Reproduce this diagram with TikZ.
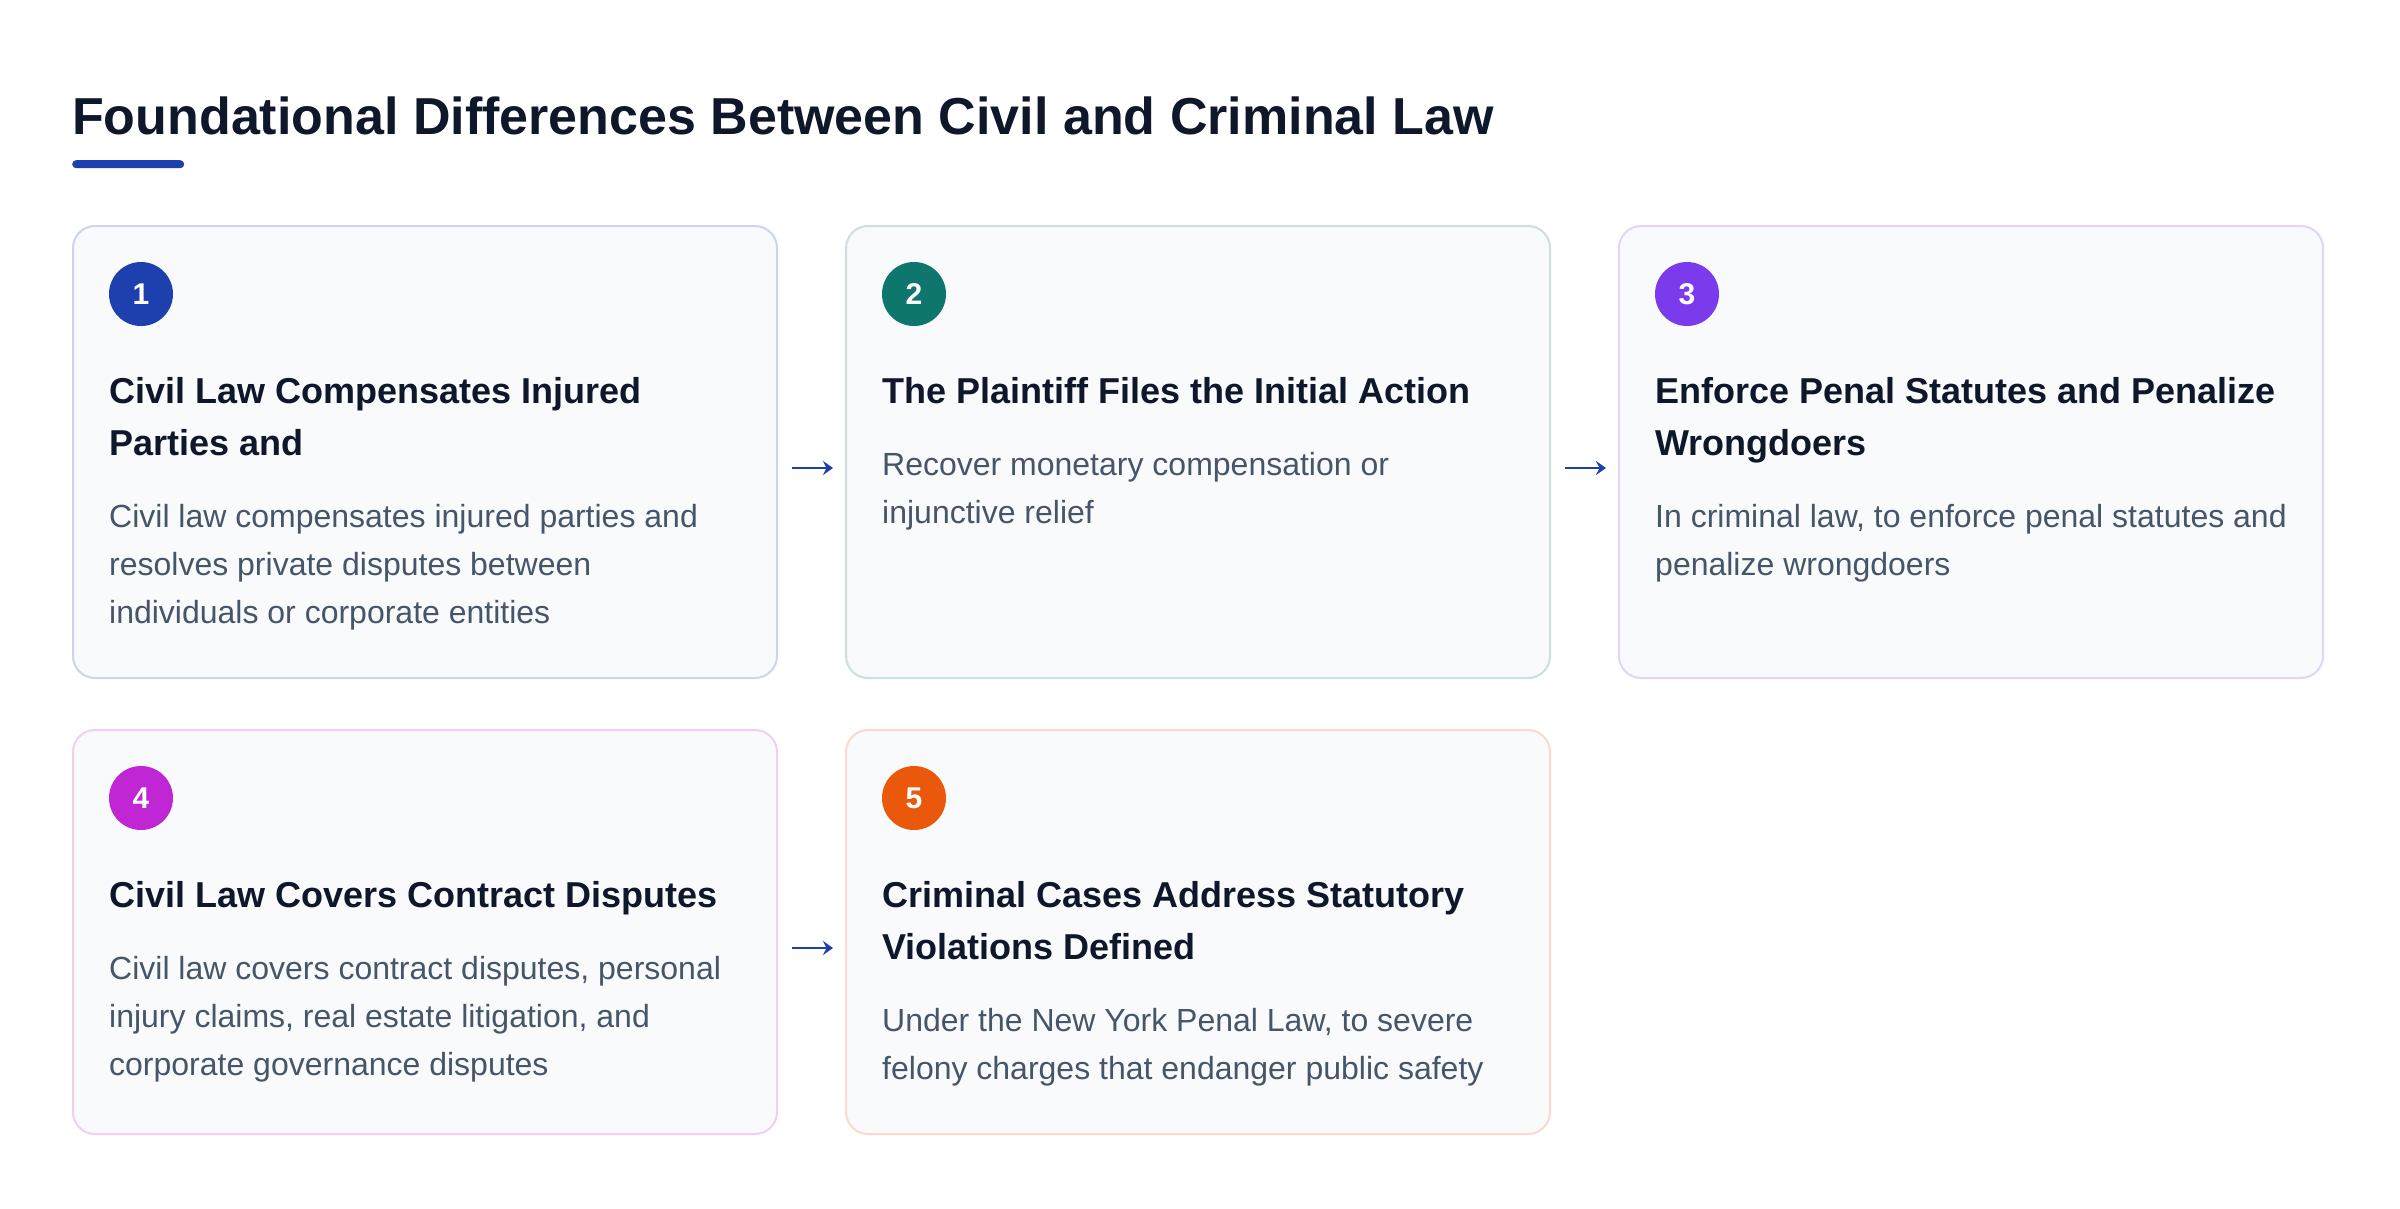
\documentclass[tikz,border=0pt]{standalone}
\usepackage{fontspec}
\setmainfont{Liberation Sans}
\usetikzlibrary{arrows.meta}
\definecolor{titlec}{HTML}{0F172A}
\definecolor{bodyc}{HTML}{475569}
\definecolor{cardfill}{HTML}{F8FAFC}
\definecolor{cA}{HTML}{1E40AF}
\definecolor{cB}{HTML}{0F766E}
\definecolor{cC}{HTML}{7C3AED}
\definecolor{cD}{HTML}{C026D3}
\definecolor{cE}{HTML}{EA580C}
\begin{document}
\begin{tikzpicture}[x=1pt,y=-1pt,
  card/.style={draw=#1!22!white, fill=cardfill, line width=2pt, outer sep=1pt,
    rounded corners=22pt, minimum width=704pt, inner sep=0pt, anchor=north west},
  badge/.style={circle, fill=#1, minimum size=64pt, inner sep=0pt, text=white,
    font=\fontsize{30}{30}\selectfont\bfseries},
  head/.style={anchor=base west, inner sep=0pt, text=titlec,
    font=\fontsize{36}{44}\selectfont\bfseries},
  body/.style={anchor=base west, inner sep=0pt, text=bodyc,
    font=\fontsize{32}{40}\selectfont},
  flow/.style={draw=cA, line width=2.3pt, -{Stealth[length=10pt,width=14pt,inset=3.5pt]}}
]
\useasboundingbox (0,0) rectangle (2400,1208);
\fill[white] (0,0) rectangle (2400,1208);

% title
\node[anchor=base west, inner sep=0pt, text=titlec,
  font=\fontsize{52}{60}\selectfont\bfseries] (title) at (72,134)
  {Foundational Differences Between Civil and Criminal Law};
\node[fill=cA, rounded corners=4pt, minimum width=112pt, minimum height=8pt,
  inner sep=0pt, anchor=north west] (bar) at (72,160) {};

% cards
\node[card=cA, minimum height=452pt] (c1) at (72,225) {};
\node[card=cB, minimum height=452pt] (c2) at (845,225) {};
\node[card=cC, minimum height=452pt] (c3) at (1618,225) {};
\node[card=cD, minimum height=404pt] (c4) at (72,729) {};
\node[card=cE, minimum height=404pt] (c5) at (845,729) {};

% badges
\node[badge=cA] (n1) at ([shift={(69,69)}]c1.north west) {1};
\node[badge=cB] (n2) at ([shift={(69,69)}]c2.north west) {2};
\node[badge=cC] (n3) at ([shift={(69,69)}]c3.north west) {3};
\node[badge=cD] (n4) at ([shift={(69,69)}]c4.north west) {4};
\node[badge=cE] (n5) at ([shift={(69,69)}]c5.north west) {5};

% card 1
\node[head] (h1a) at ([shift={(37,178)}]c1.north west) {Civil Law Compensates Injured};
\node[head] (h1b) at ([shift={(37,230)}]c1.north west) {Parties and};
\node[body] (b1a) at ([shift={(37,302)}]c1.north west) {Civil law compensates injured parties and};
\node[body] (b1b) at ([shift={(37,350)}]c1.north west) {resolves private disputes between};
\node[body] (b1c) at ([shift={(37,398)}]c1.north west) {individuals or corporate entities};

% card 2
\node[head] (h2a) at ([shift={(37,178)}]c2.north west) {The Plaintiff Files the Initial Action};
\node[body] (b2a) at ([shift={(37,250)}]c2.north west) {Recover monetary compensation or};
\node[body] (b2b) at ([shift={(37,298)}]c2.north west) {injunctive relief};

% card 3
\node[head] (h3a) at ([shift={(37,178)}]c3.north west) {Enforce Penal Statutes and Penalize};
\node[head] (h3b) at ([shift={(37,230)}]c3.north west) {Wrongdoers};
\node[body] (b3a) at ([shift={(37,302)}]c3.north west) {In criminal law, to enforce penal statutes and};
\node[body] (b3b) at ([shift={(37,350)}]c3.north west) {penalize wrongdoers};

% card 4
\node[head] (h4a) at ([shift={(37,178)}]c4.north west) {Civil Law Covers Contract Disputes};
\node[body] (b4a) at ([shift={(37,250)}]c4.north west) {Civil law covers contract disputes, personal};
\node[body] (b4b) at ([shift={(37,298)}]c4.north west) {injury claims, real estate litigation, and};
\node[body] (b4c) at ([shift={(37,346)}]c4.north west) {corporate governance disputes};

% card 5
\node[head] (h5a) at ([shift={(37,178)}]c5.north west) {Criminal Cases Address Statutory};
\node[head] (h5b) at ([shift={(37,230)}]c5.north west) {Violations Defined};
\node[body] (b5a) at ([shift={(37,302)}]c5.north west) {Under the New York Penal Law, to severe};
\node[body] (b5b) at ([shift={(37,350)}]c5.north west) {felony charges that endanger public safety};

% arrows
\draw[flow] ([shift={(14,16)}]c1.east) -- ([shift={(-12,16)}]c2.west);
\draw[flow] ([shift={(14,16)}]c2.east) -- ([shift={(-12,16)}]c3.west);
\draw[flow] ([shift={(14,16)}]c4.east) -- ([shift={(-12,16)}]c5.west);
\end{tikzpicture}
\end{document}
